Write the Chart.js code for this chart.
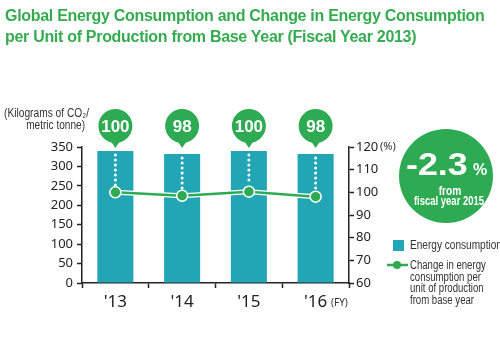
<!DOCTYPE html>
<html lang="en">
<head>
  <meta charset="UTF-8" />
  <title>Global Energy Consumption</title>
  <script src="https://cdn.jsdelivr.net/npm/chart.js"></script>
  <style>
    body { margin: 0; background: #fff; }
    #wrap { position: relative; width: 500px; height: 340px; }
    #title { position: absolute; left: 5px; top: 5px; font: bold 16px 'Liberation Sans', Arial, sans-serif;
             line-height: 21px; color: #35ab50; letter-spacing: -0.3px; white-space: nowrap; }
    canvas { position: absolute; left: 0; top: 0; }
  </style>
</head>
<body>
<div id="wrap">
  <canvas id="chart" width="500" height="340"></canvas>
  <div id="title">Global Energy Consumption and Change in Energy Consumption<br>per Unit of Production from Base Year (Fiscal Year 2013)</div>
</div>

<script>
  const years = ["'13", "'14", "'15", "'16"];
  const energy = [340, 332, 340, 332];          // kg CO2 / metric tonne
  const changePct = [100, 98.5, 100.3, 98.1];   // % vs base year
  const bubbleLabels = ['100', '98', '100', '98'];
  const leftTicks = [0, 50, 100, 150, 200, 250, 300, 350];
  const rightTicks = [60, 70, 80, 90, 100, 110, 120];

  const TEAL = '#22a6b6';
  const GREEN = '#2eab52';
  const AXIS = '#222';

  // squeezed / stretched text, like the condensed face in the original
  function narrow(ctx, text, x, y, sx) {
    ctx.save();
    ctx.translate(x, y);
    ctx.scale(sx, 1);
    ctx.fillText(text, 0, 0);
    ctx.restore();
  }

  const extras = {
    id: 'extras',
    afterDatasetDraw(chart, args) {
      if (args.index !== 0) return;
      const ctx = chart.ctx;
      const bars = chart.getDatasetMeta(0).data;
      const pts = chart.getDatasetMeta(1).data;
      ctx.save();
      // dotted leaders from bubble to point
      ctx.strokeStyle = '#fff';
      ctx.lineWidth = 3;
      ctx.lineCap = 'round';
      ctx.setLineDash([0, 5]);
      bars.forEach((b, i) => {
        ctx.beginPath();
        ctx.moveTo(b.x, b.y + 4);
        ctx.lineTo(b.x, pts[i].y - 7);
        ctx.stroke();
      });
      // white halo under the line
      ctx.setLineDash([]);
      ctx.lineWidth = 5;
      ctx.beginPath();
      pts.forEach((p, i) => i ? ctx.lineTo(p.x, p.y) : ctx.moveTo(p.x, p.y));
      ctx.stroke();
      ctx.restore();
    },
    afterDatasetsDraw(chart) {
      const ctx = chart.ctx;
      const pts = chart.getDatasetMeta(1).data;
      ctx.save();
      pts.forEach(p => {
        ctx.beginPath();
        ctx.arc(p.x, p.y, 5.5, 0, Math.PI * 2);
        ctx.fillStyle = GREEN;
        ctx.fill();
        ctx.lineWidth = 1.5;
        ctx.strokeStyle = '#fff';
        ctx.stroke();
      });
      ctx.restore();
    },
    afterDraw(chart) {
      const ctx = chart.ctx;
      const area = chart.chartArea;
      const bars = chart.getDatasetMeta(0).data;
      ctx.save();

      // number bubbles above bars
      bars.forEach((b, i) => {
        const cy = 126;
        ctx.fillStyle = GREEN;
        ctx.beginPath();
        ctx.arc(b.x, cy, 17, 0, Math.PI * 2);
        ctx.fill();
        ctx.beginPath();
        ctx.moveTo(b.x - 6, cy + 13);
        ctx.lineTo(b.x + 6, cy + 13);
        ctx.lineTo(b.x, area.top + 1);
        ctx.closePath();
        ctx.fill();
        ctx.fillStyle = '#fff';
        ctx.font = "bold 17px 'Liberation Sans', Arial";
        ctx.textAlign = 'center';
        ctx.textBaseline = 'middle';
        ctx.fillText(bubbleLabels[i], b.x, cy + 1, 30);
      });

      // left axis title
      ctx.fillStyle = '#333';
      ctx.font = "12px 'Liberation Sans', Arial";
      ctx.textAlign = 'right';
      ctx.textBaseline = 'alphabetic';
      narrow(ctx, '(Kilograms of CO\u2082/', 89, 117, 0.85);
      narrow(ctx, 'metric tonne)', 85, 129, 0.84);

      // right axis unit
      const y1 = chart.scales.y1;
      ctx.textAlign = 'left';
      ctx.textBaseline = 'middle';
      ctx.font = "11px 'Noto Sans', sans-serif";
      ctx.fillText('(%)', 380, y1.getPixelForValue(120));

      // FY label
      ctx.font = "10px 'Noto Sans', sans-serif";
      ctx.fillText('(FY)', 331, 303);

      // big circle
      ctx.fillStyle = GREEN;
      ctx.beginPath();
      ctx.arc(446, 176, 47, 0, Math.PI * 2);
      ctx.fill();
      ctx.fillStyle = '#fff';
      ctx.textBaseline = 'alphabetic';
      ctx.textAlign = 'left';
      ctx.font = "bold 32px 'Liberation Sans', Arial";
      narrow(ctx, '-2.3', 406, 175, 1.12);
      ctx.font = "bold 16px 'Liberation Sans', Arial";
      ctx.fillText('%', 473, 175, 16);
      ctx.textAlign = 'center';
      ctx.font = "bold 12px 'Liberation Sans', Arial";
      narrow(ctx, 'from', 450, 195, 0.85);
      narrow(ctx, 'fiscal year 2015', 449, 205, 0.79);

      // legend
      ctx.fillStyle = TEAL;
      ctx.fillRect(393, 240, 11, 11);
      ctx.strokeStyle = GREEN;
      ctx.lineWidth = 2.5;
      ctx.beginPath();
      ctx.moveTo(387, 265);
      ctx.lineTo(408, 265);
      ctx.stroke();
      ctx.fillStyle = GREEN;
      ctx.beginPath();
      ctx.arc(397, 265, 4, 0, Math.PI * 2);
      ctx.fill();
      ctx.fillStyle = '#333';
      ctx.textAlign = 'left';
      ctx.textBaseline = 'middle';
      ctx.font = "12px 'Liberation Sans', Arial";
      narrow(ctx, 'Energy consumption', 410, 246, 0.84);
      ['Change in energy', 'consumption per', 'unit of production', 'from base year']
        .forEach((t, i) => narrow(ctx, t, 410, 266 + i * 11.5, 0.8));
      ctx.restore();
    }
  };

  new Chart(document.getElementById('chart'), {
    data: {
      labels: years,
      datasets: [
        {
          type: 'bar', label: 'Energy consumption', data: energy, yAxisID: 'y',
          backgroundColor: TEAL, categoryPercentage: 1, barPercentage: 0.54, order: 2
        },
        {
          type: 'line', label: 'Change in energy consumption per unit of production from base year',
          data: changePct, yAxisID: 'y1', borderColor: GREEN, backgroundColor: GREEN, borderWidth: 2.5,
          pointRadius: 5, pointBackgroundColor: GREEN, pointBorderColor: '#fff', pointBorderWidth: 1.5,
          order: 1
        }
      ]
    },
    options: {
      responsive: false,
      animation: false,
      layout: { padding: { top: 147, left: 0, right: 0, bottom: 0 } },
      plugins: { legend: { display: false }, tooltip: { enabled: false } },
      scales: {
        x: {
          offset: true,
          afterFit: s => { s.height = 57; },
          grid: { drawOnChartArea: false, offset: true, tickLength: 5, tickColor: AXIS, tickWidth: 1.5 },
          border: { color: AXIS, width: 1.5 },
          ticks: { color: '#222', padding: 4, font: { family: 'Noto Sans', size: 17 } }
        },
        y: {
          position: 'left', min: 0, max: 350,
          afterFit: s => { s.width = 82; },
          afterBuildTicks: s => { s.ticks = leftTicks.map(v => ({ value: v })); },
          grid: { drawOnChartArea: false, tickLength: 5, tickColor: AXIS, tickWidth: 1.5 },
          border: { color: AXIS, width: 1.5 },
          ticks: { color: '#222', padding: 4, font: { family: 'Noto Sans', size: 13 } }
        },
        y1: {
          position: 'right', min: 60, max: 120,
          afterFit: s => { s.width = 151; },
          afterBuildTicks: s => { s.ticks = rightTicks.map(v => ({ value: v })); },
          grid: { drawOnChartArea: false, tickLength: 5, tickColor: AXIS, tickWidth: 1.5 },
          border: { color: AXIS, width: 1.5 },
          ticks: { color: '#222', padding: 2, font: { family: 'Noto Sans', size: 13 } }
        }
      }
    },
    plugins: [extras]
  });
</script>
</body>
</html>
